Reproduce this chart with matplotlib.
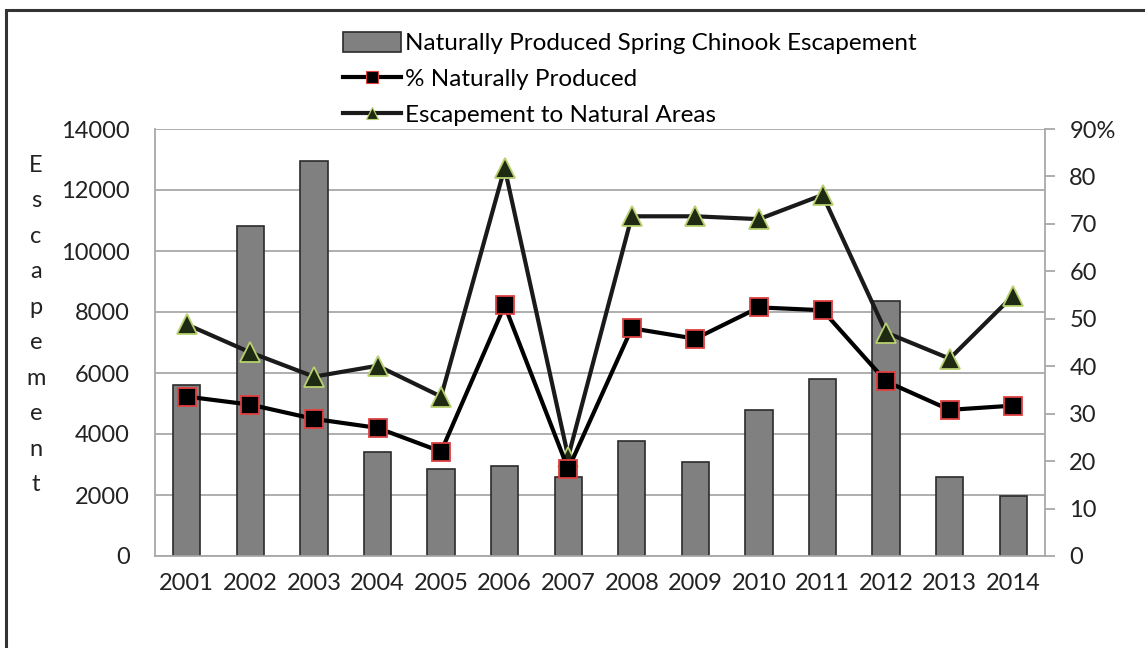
import matplotlib
matplotlib.use("Agg")
import matplotlib.pyplot as plt
import matplotlib.patches as mpatches
import numpy as np

years = ["2001", "2002", "2003", "2004", "2005", "2006", "2007",
         "2008", "2009", "2010", "2011", "2012", "2013", "2014"]
natural_escapement = [5600, 10820, 12950, 3400, 2850, 2950, 2600,
                      3770, 3080, 4790, 5800, 8360, 2590, 1970]
pct_natural = [33.6, 31.9, 28.9, 27.0, 22.0, 52.8, 18.3,
               48.0, 45.8, 52.4, 51.8, 36.8, 30.8, 31.7]
esc_natural_areas = [48.8, 42.9, 37.8, 40.1, 33.6, 81.8, 20.9,
                     71.6, 71.6, 71.0, 76.1, 47.1, 41.6, 54.9]
left_ticks = [0, 2000, 4000, 6000, 8000, 10000, 12000, 14000]
right_ticks = [0, 10, 20, 30, 40, 50, 60, 70, 80, 90]
right_labels = ["0", "10", "20", "30", "40", "50", "60", "70", "80", "90%"]

plt.rcParams["font.family"] = ["Lato", "DejaVu Sans"]
W, H = 1145, 648
fig = plt.figure(figsize=(W / 100, H / 100), dpi=100)

# outer frame (runs off the right and bottom edges)
fig.patches.append(mpatches.Rectangle((6 / W, -0.1), 1.2, 1 - 10 / H + 0.1,
                                      transform=fig.transFigure, fill=False,
                                      edgecolor="#333333", lw=2.2, zorder=0))

ax = fig.add_axes([155 / W, 1 - 556 / H, 890 / W, 427 / H])
x = np.arange(len(years))
bars = ax.bar(x, natural_escapement, width=0.43, color="#808080",
              edgecolor="#2b2b2b", lw=1.2, zorder=2,
              label="Naturally Produced Spring Chinook Escapement")
ax.set_xlim(-0.5, len(years) - 0.5)
ax.set_ylim(0, 14000)
ax.set_yticks(left_ticks)
ax.set_yticklabels([str(t) for t in left_ticks])
ax.set_xticks(x)
ax.set_xticklabels(years)
ax.grid(axis="y", color="#a8a8a8", lw=1.3, zorder=0)
ax.set_axisbelow(True)
for s in ["top", "right"]:
    ax.spines[s].set_visible(False)
for s in ["left", "bottom"]:
    ax.spines[s].set_color("#a8a8a8")
    ax.spines[s].set_linewidth(1.3)
ax.tick_params(axis="both", length=0, labelsize=17, colors="#222222")
ax.tick_params(axis="y", pad=18)
ax.tick_params(axis="x", pad=12)

ax2 = ax.twinx()
ax2.set_ylim(0, 90)
ax2.set_yticks(right_ticks)
ax2.set_yticklabels(right_labels)
for s in ["top", "left", "bottom"]:
    ax2.spines[s].set_visible(False)
ax2.spines["right"].set_color("#a8a8a8")
ax2.spines["right"].set_linewidth(1.3)
ax2.tick_params(axis="y", length=7, width=1.3, color="#a8a8a8",
                labelsize=17, labelcolor="#222222", pad=10.5)

l1, = ax2.plot(x, pct_natural, color="black", lw=3, marker="s", ms=13,
               mfc="black", mec="#e04040", mew=1.3, zorder=4,
               label="% Naturally Produced")
l2, = ax2.plot(x, esc_natural_areas, color="#1a1a1a", lw=3, marker="^", ms=15,
               mfc="#1e2a12", mec="#b8d070", mew=1.3, zorder=3,
               label="Escapement to Natural Areas")

leg = fig.legend(handles=[bars, l1, l2], loc="upper left",
                 bbox_to_anchor=(343 / W, 1 - 32 / H), frameon=False, fontsize=17.5,
                 handlelength=2.4, handleheight=0.9, handletextpad=0.15,
                 labelspacing=0.55, borderaxespad=0, borderpad=0)
# legend keys use smaller markers than the plot
for h in leg.legend_handles[1:]:
    h.set_markersize(9)
    h.set_markeredgewidth(0.8)

fig.text(36 / W, 1 - 325 / H, "\n".join("Escapement"), ha="center", va="center",
         fontsize=17, color="#222222", linespacing=1.85)

fig.savefig("out.png", dpi=100)
